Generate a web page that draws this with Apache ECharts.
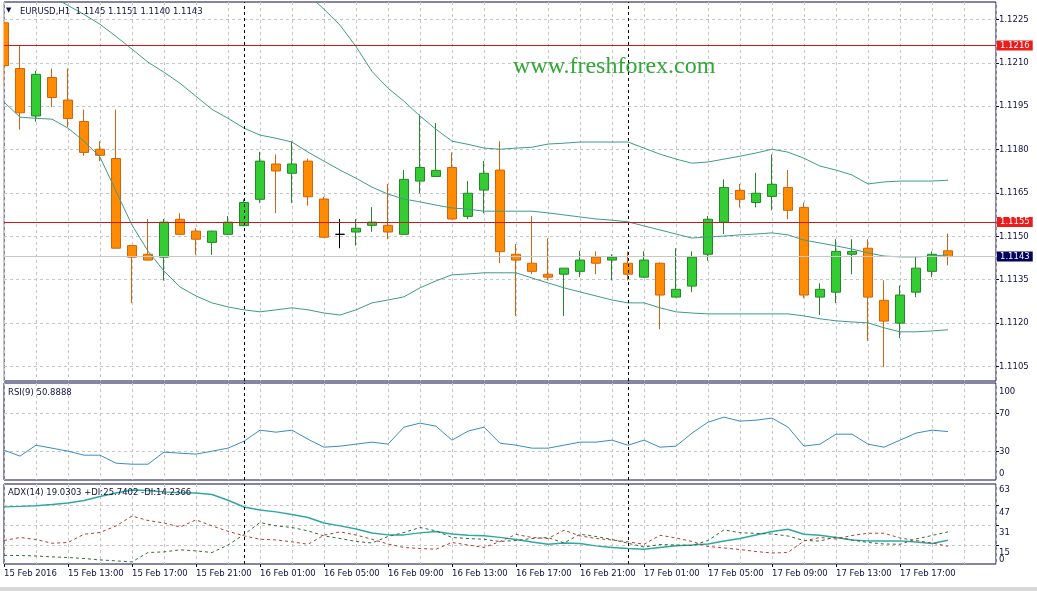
<!DOCTYPE html>
<html><head><meta charset="utf-8">
<script src="https://cdn.jsdelivr.net/npm/echarts@6/dist/echarts.min.js"></script>
<style>html,body{margin:0;padding:0;background:#fff;}#c{width:1037px;height:591px;}</style>
</head><body><div id="c"></div>
<script>
// ---------- DATA ----------
const symbolName = 'EURUSD,H1';
const watermark = 'www.freshforex.com';
// hourly bars from 15 Feb 09:00 (60 bars) + 3 empty future slots (chart shift)
const firstDay = 15, firstHour = 9, barCount = 60, shiftBars = 3;
const categories = [];
for (let h = 0; h < barCount + shiftBars; h++) {
  const t = firstHour + h;
  categories.push((firstDay + Math.floor(t / 24)) + ' Feb ' + String(t % 24).padStart(2, '0') + ':00');
}
const tickLabels = ['15 Feb 2016','15 Feb 13:00','15 Feb 17:00','15 Feb 21:00','16 Feb 01:00','16 Feb 05:00',
  '16 Feb 09:00','16 Feb 13:00','16 Feb 17:00','16 Feb 21:00','17 Feb 01:00','17 Feb 05:00',
  '17 Feb 09:00','17 Feb 13:00','17 Feb 17:00'];
const daySeparators = ['16 Feb 00:00', '17 Feb 00:00'];

const open  = [1.12238,1.12080,1.11916,1.12049,1.11971,1.11897,1.11801,1.11769,1.11468,1.11438,
               1.11428,1.11559,1.11518,1.11479,1.11507,1.11537,1.11628,1.11750,1.11718,1.11760,
               1.11629,1.11507,1.11515,1.11538,1.11538,1.11507,1.11691,1.11707,1.11738,1.11569,
               1.11660,1.11729,1.11438,1.11407,1.11369,1.11369,1.11379,1.11428,1.11418,1.11407,
               1.11359,1.11407,1.11290,1.11328,1.11438,1.11549,1.11659,1.11617,1.11638,1.11669,
               1.11600,1.11290,1.11307,1.11438,1.11459,1.11279,1.11200,1.11307,1.11379,1.1145];
const high  = [1.12240,1.12160,1.12072,1.12080,1.12080,1.11938,1.11829,1.11938,1.11470,1.11560,
               1.11560,1.11580,1.11528,1.11520,1.11570,1.11628,1.11792,1.11783,1.11829,1.11769,
               1.11637,1.11560,1.11560,1.11601,1.11681,1.11729,1.11921,1.11892,1.11790,1.11691,
               1.11760,1.11829,1.11473,1.11570,1.11493,1.11390,1.11450,1.11448,1.11438,1.11448,
               1.11448,1.11410,1.11459,1.11448,1.11570,1.11697,1.11681,1.11719,1.11783,1.11729,
               1.11617,1.11338,1.11490,1.11490,1.11490,1.11348,1.11330,1.11428,1.11448,1.1151];
const low   = [1.12019,1.11869,1.11896,1.11947,1.11878,1.11778,1.11760,1.11459,1.11269,1.11416,
               1.11347,1.11505,1.11436,1.11436,1.11505,1.11535,1.11616,1.11580,1.11616,1.11606,
               1.11495,1.11459,1.11468,1.11516,1.11490,1.11505,1.11649,1.11705,1.11558,1.11559,
               1.11580,1.11407,1.11225,1.11369,1.11348,1.11225,1.11359,1.11369,1.11348,1.11348,
               1.11357,1.11179,1.11288,1.11307,1.11416,1.11508,1.11600,1.11600,1.11590,1.11559,
               1.11286,1.11228,1.11269,1.11369,1.11139,1.11048,1.11148,1.11290,1.11359,1.1140];
const close = [1.12090,1.11927,1.12060,1.11980,1.11907,1.11790,1.11780,1.11459,1.11428,1.11418,
               1.11549,1.11507,1.11490,1.11518,1.11549,1.11617,1.11760,1.11726,1.11750,1.11637,
               1.11497,1.11507,1.11528,1.11549,1.11515,1.11697,1.11738,1.11728,1.11560,1.11649,
               1.11718,1.11447,1.11418,1.11379,1.11359,1.11390,1.11418,1.11407,1.11428,1.11369,
               1.11418,1.11297,1.11317,1.11428,1.11559,1.11669,1.11628,1.11649,1.11680,1.11590,
               1.11297,1.11317,1.11448,1.11448,1.11290,1.11207,1.11297,1.11390,1.11438,1.1143];

const bbUpper = [1.12860,1.12858,1.12806,1.12753,1.12722,1.12705,1.12692,1.12726,1.12755,1.12755,
                 1.12754,1.12733,1.12674,1.12608,1.12560,1.12502,1.12461,1.12432,1.12399,1.12336,
                 1.12285,1.12230,1.12156,1.12070,1.12012,1.11967,1.11916,1.11870,1.11829,1.11818,
                 1.11805,1.11801,1.11805,1.11808,1.11819,1.11822,1.11826,1.11826,1.11826,1.11826,
                 1.11805,1.11784,1.11767,1.11753,1.11757,1.11767,1.11777,1.11788,1.11801,1.11791,
                 1.11770,1.11743,1.11729,1.11712,1.11681,1.11688,1.11691,1.11691,1.11691,1.11694];
const bbMiddle = [1.12412,1.12385,1.12357,1.12329,1.12298,1.12267,1.12233,1.12191,1.12147,1.12102,
                  1.12067,1.12029,1.11984,1.11939,1.11908,1.11874,1.11850,1.11839,1.11826,1.11791,
                  1.11760,1.11729,1.11701,1.11670,1.11646,1.11629,1.11619,1.11608,1.11598,1.11594,
                  1.11587,1.11587,1.11587,1.11587,1.11581,1.11574,1.11567,1.11560,1.11556,1.11550,
                  1.11536,1.11522,1.11508,1.11494,1.11498,1.11501,1.11505,1.11508,1.11512,1.11505,
                  1.11487,1.11477,1.11467,1.11456,1.11443,1.11432,1.11429,1.11429,1.11432,1.11436];
const bbLower = [1.11964,1.11912,1.11908,1.11905,1.11874,1.11829,1.11774,1.11656,1.11539,1.11449,
                 1.11380,1.11325,1.11294,1.11270,1.11256,1.11246,1.11239,1.11246,1.11253,1.11246,
                 1.11235,1.11228,1.11246,1.11270,1.11280,1.11291,1.11322,1.11346,1.11367,1.11370,
                 1.11374,1.11374,1.11374,1.11356,1.11339,1.11322,1.11308,1.11294,1.11280,1.11270,
                 1.11270,1.11253,1.11239,1.11235,1.11232,1.11232,1.11232,1.11232,1.11232,1.11232,
                 1.11225,1.11215,1.11208,1.11204,1.11201,1.11184,1.11170,1.11170,1.11173,1.11177];

const rsi = [31.4,25.1,36.6,33.5,30.3,26.1,26.1,17.7,16.6,16.6,
             29.3,28.2,27.2,30.3,33.5,40.8,52.4,50.3,52.4,42.9,
             34.5,35.6,37.7,39.8,37.7,55.6,59.8,56.6,41.9,51.4,
             55.6,38.7,36.6,33.5,33.5,36.6,39.8,39.8,41.9,36.6,
             41.9,34.5,35.6,49.3,60.8,66.1,61.9,62.9,65.1,55.6,
             35.6,37.7,48.2,48.2,37.7,34.5,41.9,49.3,52.4,50.8888];
const adx = [45.7,46.1,46.6,47.6,48.8,50.8,54.0,56.8,59.2,58.8,
             57.7,56.9,56.8,55.6,51.0,45.6,43.2,41.7,39.6,37.2,
             32.8,30.5,28.0,24.8,23.3,23.3,24.9,26.0,24.0,23.0,
             22.6,21.3,19.6,17.6,15.8,16.8,16.4,14.5,13.2,12.4,
             11.8,13.2,14.6,15.2,16.0,18.4,20.4,23.2,26.0,27.8,
             23.8,23.0,21.2,19.2,18.5,18.5,18.5,17.6,16.4,19.0303];
const plusDI = [6.9,6.8,6.4,5.7,5.2,4.4,3.3,2.5,1.7,9.2,
                9.7,11.3,10.5,9.2,15.2,23.6,33.2,30.5,29.2,26.5,
                22.5,20.4,18.0,16.8,22.0,25.2,29.2,26.5,21.2,20.4,
                19.8,18.0,18.8,20.4,21.2,16.8,23.8,22.0,19.6,16.6,
                13.6,15.6,15.2,14.8,18.8,27.3,25.0,24.5,24.0,22.4,
                18.8,18.4,21.6,19.2,17.2,16.0,15.8,20.0,22.8,25.7402];
const minusDI = [18.8,21.2,19.6,16.6,17.2,23.8,25.2,30.4,38.4,34.8,
                 32.8,29.6,35.3,30.5,26.2,22.5,19.8,19.3,17.7,15.8,
                 23.0,25.7,23.2,19.8,16.0,13.2,12.4,11.8,17.2,15.2,
                 13.2,18.0,23.7,21.2,20.4,27.0,22.5,20.4,19.2,17.7,
                 15.8,23.0,20.8,18.0,14.0,12.8,11.6,10.0,8.8,9.2,
                 18.5,21.2,20.0,22.8,24.6,24.6,20.8,18.8,16.8,14.2366];

const levelLines = [1.1155, 1.1216];
const bidPrice = 1.1143;
const priceTicks = [1.1105,1.1120,1.1135,1.1150,1.1165,1.1180,1.1195,1.1210,1.1225];
const rsiLabels = [0, 30, 70, 100];
const rsiGridLevels = [30, 70];
const adxLabels = [15, 31, 47, 63];
const adxZeroLabel = [0];
const adxGridLevels = [15, 31, 47];

// ---------- STYLE ----------
const NAVY = '#0c0c48';
const TXT = '#101040';
const GRIDC = '#c6c6c6';
const FONT = '"DejaVu Sans", Verdana, sans-serif';
const FS = 8.5;
const BULL = '#33cc33', BULL_B = '#25862a', BEAR = '#ff8c00', BEAR_B = '#cf6410';
const BB = '#3f9b88';
const LEVEL = '#c81818';

const candleData = open.map((o, i) => {
  const v = [o, close[i], low[i], high[i]];
  if (o === close[i]) return { value: v, itemStyle: { color: '#000', borderColor: '#000', borderColorDoji: '#000' } };
  return v;
});

const sepLines = daySeparators.map(d => ({
  xAxis: d, lineStyle: { color: '#000', type: [3, 3], width: 1 }, label: { show: false }
}));

const L = 4, W = 992;
const grids = [
  { left: L, top: 2, width: W, height: 379 },
  { left: L, top: 383, width: W, height: 97 },
  { left: L, top: 484, width: W, height: 80 }
].map(g => Object.assign(g, { show: true, borderColor: NAVY, borderWidth: 1, backgroundColor: 'transparent', containLabel: false, outerBoundsMode: 'none' }));

function xAxisFor(gi, withLabels) {
  return {
    type: 'category', gridIndex: gi, data: categories, boundaryGap: false,
    axisLine: { show: false },
    axisTick: { show: withLabels, length: 3, interval: (i) => i % 4 === 0 && i < barCount, lineStyle: { color: NAVY } },
    axisLabel: {
      show: withLabels, interval: (i) => i % 4 === 0 && i < barCount,
      formatter: (v, i) => tickLabels[Math.round(i / 4)] || '',
      align: 'left', margin: 5, color: TXT, fontFamily: FONT, fontSize: FS, hideOverlap: false
    },
    splitLine: { show: true, interval: (i) => i % 2 === 0, lineStyle: { color: GRIDC, type: [3, 3], width: 1 } }
  };
}
const lblBase = { color: TXT, fontFamily: FONT, fontSize: FS };
function yAxisFor(gi, min, max, labels, lines, fmt, rich, extra) {
  return Object.assign({
    type: 'value', gridIndex: gi, position: 'right', min, max, scale: true,
    axisLine: { show: false },
    axisTick: { show: true, length: 3, customValues: lines, lineStyle: { color: NAVY } },
    axisLabel: Object.assign({ customValues: labels, formatter: fmt, margin: 3, hideOverlap: false, showMinLabel: true, showMaxLabel: true, rich: rich || {} }, lblBase),
    splitLine: { show: true, lineStyle: { color: GRIDC, type: [3, 3], width: 1 } }
  }, extra || {});
}
const tok = (pad) => Object.assign({ padding: pad }, lblBase);

const option = {
  animation: false,
  backgroundColor: '#ffffff',
  grid: grids,
  xAxis: [xAxisFor(0, false), xAxisFor(1, false), xAxisFor(2, true)],
  yAxis: [
    yAxisFor(0, 1.1100, 1.1231, priceTicks, priceTicks, v => v.toFixed(4)),
    yAxisFor(1, 0, 102, rsiLabels, rsiGridLevels,
      v => v === 100 ? '{dn|100}' : (v === 0 ? '{up|0}' : String(v)),
      { dn: tok([13, 0, 0, 0]), up: tok([0, 0, 12, 0]) }),
    yAxisFor(2, 0, 64, adxLabels, adxGridLevels,
      v => v === 63 ? '{t|63}' : '{dn|' + v + '}',
      { dn: tok([15, 0, 0, 0]), t: tok([10, 0, 0, 0]) }),
    // separate axis for the "0" label of the ADX pane (it overlaps "15" in the original)
    yAxisFor(2, 0, 64, adxZeroLabel, [], v => '{up|' + v + '}',
      { up: tok([0, 0, 8, 0]) },
      { axisTick: { show: false }, splitLine: { show: false } })
  ],
  series: [
    {
      type: 'candlestick', name: symbolName, xAxisIndex: 0, yAxisIndex: 0, barWidth: 9, clip: true,
      data: candleData,
      itemStyle: { color: BULL, color0: BEAR, borderColor: BULL_B, borderColor0: BEAR_B, borderWidth: 1 },
      markLine: {
        silent: true, symbol: ['none', 'none'], animation: false, precision: 4,
        data: [
          { yAxis: bidPrice, lineStyle: { color: '#c8c8c8', type: 'solid', width: 1 },
            label: { show: true, position: 'end', distance: 1, formatter: () => bidPrice.toFixed(4),
              backgroundColor: '#00005e', color: '#fff', padding: [1, 3, 0, 3], fontFamily: FONT, fontSize: FS } },
          ...sepLines
        ]
      }
    },
    { type: 'line', name: 'BB upper', xAxisIndex: 0, yAxisIndex: 0, data: bbUpper, symbol: 'none', lineStyle: { color: BB, width: 1 }, itemStyle: { color: BB } },
    { type: 'line', name: 'BB middle', xAxisIndex: 0, yAxisIndex: 0, data: bbMiddle, symbol: 'none', lineStyle: { color: BB, width: 1 }, itemStyle: { color: BB } },
    { type: 'line', name: 'BB lower', xAxisIndex: 0, yAxisIndex: 0, data: bbLower, symbol: 'none', lineStyle: { color: BB, width: 1 }, itemStyle: { color: BB },
      markLine: {
        silent: true, symbol: ['none', 'none'], animation: false, precision: 4, z: 10,
        lineStyle: { color: LEVEL, type: 'solid', width: 1, opacity: 1 },
        data: levelLines.map(v => ({
          yAxis: v, lineStyle: { color: LEVEL, type: 'solid', width: 1, opacity: 1 },
          label: { show: true, position: 'end', distance: 1, formatter: () => v.toFixed(4),
            backgroundColor: '#ee1b1b', color: '#fff', padding: [1, 3, 0, 3], fontFamily: FONT, fontSize: FS }
        }))
      } },
    { type: 'line', name: 'RSI(9)', xAxisIndex: 1, yAxisIndex: 1, data: rsi, symbol: 'none', lineStyle: { color: '#3b8cc4', width: 1 }, itemStyle: { color: '#3b8cc4' },
      markLine: { silent: true, symbol: ['none', 'none'], animation: false, data: sepLines } },
    { type: 'line', name: 'ADX(14)', xAxisIndex: 2, yAxisIndex: 2, data: adx, symbol: 'none', lineStyle: { color: '#2fa8a0', width: 1.5 }, itemStyle: { color: '#2fa8a0' },
      markLine: { silent: true, symbol: ['none', 'none'], animation: false, data: sepLines } },
    { type: 'line', name: '+DI', xAxisIndex: 2, yAxisIndex: 2, data: plusDI, symbol: 'none', lineStyle: { color: '#2f6e34', width: 1, type: [3, 3] }, itemStyle: { color: '#2f6e34' } },
    { type: 'line', name: '-DI', xAxisIndex: 2, yAxisIndex: 2, data: minusDI, symbol: 'none', lineStyle: { color: '#b83a30', width: 1, type: [3, 3] }, itemStyle: { color: '#b83a30' } }
  ],
  graphic: [
    // white margin left of the pane border (the first candle is cut by the border)
    { type: 'rect', left: 0, top: 0, z: 90, shape: { width: 3.5, height: 382 }, style: { fill: '#fff' } },
    { type: 'text', left: 6, top: 7, z: 100, style: { text: '▼', fill: NAVY, font: '7px ' + FONT } },
    { type: 'text', left: 20, top: 7, z: 100, style: { text: symbolName + '  ' + [open, high, low, close].map(a => a[barCount - 1].toFixed(4)).join(' '), fill: TXT, font: FS + 'px ' + FONT } },
    { type: 'text', left: 8, top: 388, z: 100, style: { text: 'RSI(9) ' + rsi[barCount - 1].toFixed(4), fill: TXT, font: FS + 'px ' + FONT } },
    { type: 'text', left: 8, top: 488, z: 100, style: { text: 'ADX(14) ' + adx[barCount - 1].toFixed(4) + ' +DI:' + plusDI[barCount - 1].toFixed(4) + ' -DI:' + minusDI[barCount - 1].toFixed(4), fill: TXT, font: FS + 'px ' + FONT } },
    { type: 'text', left: 513, top: 55, z: 100, style: { text: watermark, fill: '#31a836', font: '24px "Liberation Serif", "Times New Roman", serif' } },
    { type: 'rect', left: 0, top: 587, z: 0, shape: { width: 1037, height: 4 }, style: { fill: '#d8d8d8' } }
  ]
};
const chart = echarts.init(document.getElementById('c'), null, { renderer: 'canvas', width: 1037, height: 591 });
chart.setOption(option);
</script>
</body></html>
